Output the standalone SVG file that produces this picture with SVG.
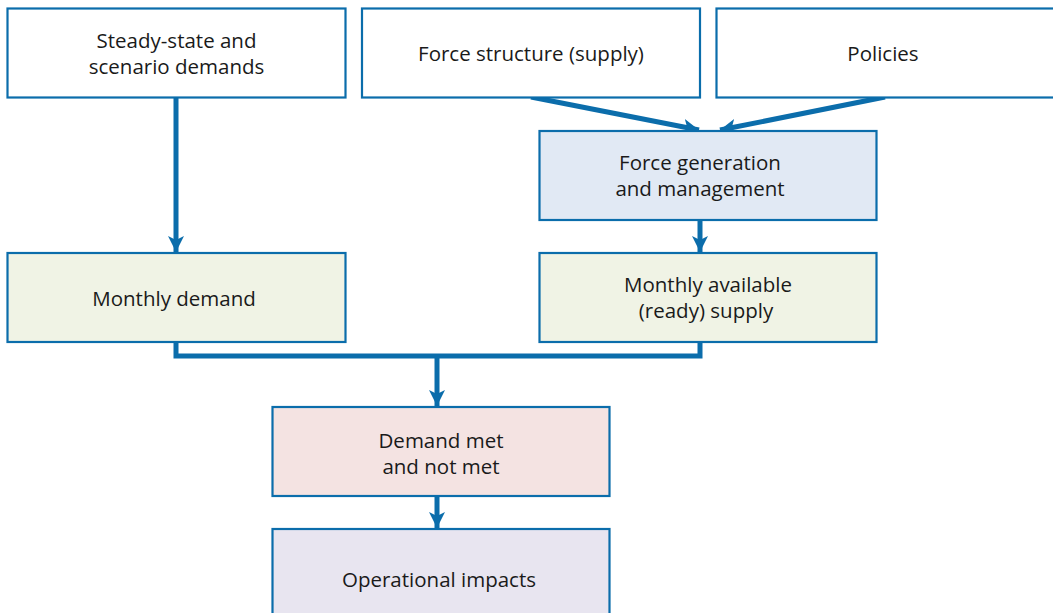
<svg xmlns="http://www.w3.org/2000/svg" width="1053" height="613" viewBox="0 0 1053 613">
<style>
.box{stroke:#0b6dab;stroke-width:2.2}
.t{font-family:"Open Sans","Noto Sans",sans-serif;font-size:20.5px;fill:#1a1a1a;text-anchor:middle}
.c{stroke:#0b6dab;stroke-width:5;fill:none}
</style>
<defs>
<marker id="ah" viewBox="0 0 16 16" refX="16" refY="8" markerWidth="16" markerHeight="16" markerUnits="userSpaceOnUse" orient="auto">
<path d="M0,0 L16,8 L0,16 L4,8 Z" fill="#0b6dab"/>
</marker>
</defs>
<rect width="1053" height="613" fill="#ffffff"/>
<g id="connectors">
<line class="c" x1="176" y1="98" x2="176" y2="252" marker-end="url(#ah)"/>
<line class="c" x1="531" y1="97" x2="699" y2="130" marker-end="url(#ah)"/>
<line class="c" x1="885" y1="97" x2="720" y2="130" marker-end="url(#ah)"/>
<line class="c" x1="700" y1="220" x2="700" y2="252" marker-end="url(#ah)"/>
<polyline class="c" points="176,342 176,356 700,356 700,342" style="stroke-linejoin:miter"/>
<line class="c" x1="437" y1="356" x2="437" y2="406" marker-end="url(#ah)"/>
<line class="c" x1="437" y1="496" x2="437" y2="528" marker-end="url(#ah)"/>
</g>
<g id="steady">
<rect class="box" x="7.5" y="8.5" width="338" height="89" fill="#ffffff"/>
<text class="t" x="176.5" y="48">Steady-state and</text>
<text class="t" x="176.5" y="74">scenario demands</text>
</g>
<g id="force-structure">
<rect class="box" x="362" y="8.5" width="338" height="89" fill="#ffffff"/>
<text class="t" x="531" y="61">Force structure (supply)</text>
</g>
<g id="policies">
<rect class="box" x="716.5" y="8.5" width="340" height="89" fill="#ffffff"/>
<text class="t" x="883" y="61">Policies</text>
</g>
<g id="force-gen">
<rect class="box" x="539.5" y="131" width="337" height="89" fill="#e1e9f4"/>
<text class="t" x="700" y="170">Force generation</text>
<text class="t" x="700" y="196">and management</text>
</g>
<g id="monthly-demand">
<rect class="box" x="7.5" y="253" width="338" height="89" fill="#f0f3e5"/>
<text class="t" x="174" y="306">Monthly demand</text>
</g>
<g id="monthly-supply">
<rect class="box" x="539.5" y="253" width="337" height="89" fill="#f0f3e5"/>
<text class="t" x="708" y="292">Monthly available</text>
<text class="t" x="706" y="318">(ready) supply</text>
</g>
<g id="demand-met">
<rect class="box" x="272.5" y="407" width="337" height="89" fill="#f4e3e2"/>
<text class="t" x="441" y="448">Demand met</text>
<text class="t" x="441" y="474">and not met</text>
</g>
<g id="impacts">
<rect class="box" x="272.5" y="529" width="337" height="90" fill="#e8e5f0"/>
<text class="t" x="439" y="587">Operational impacts</text>
</g>
</svg>
